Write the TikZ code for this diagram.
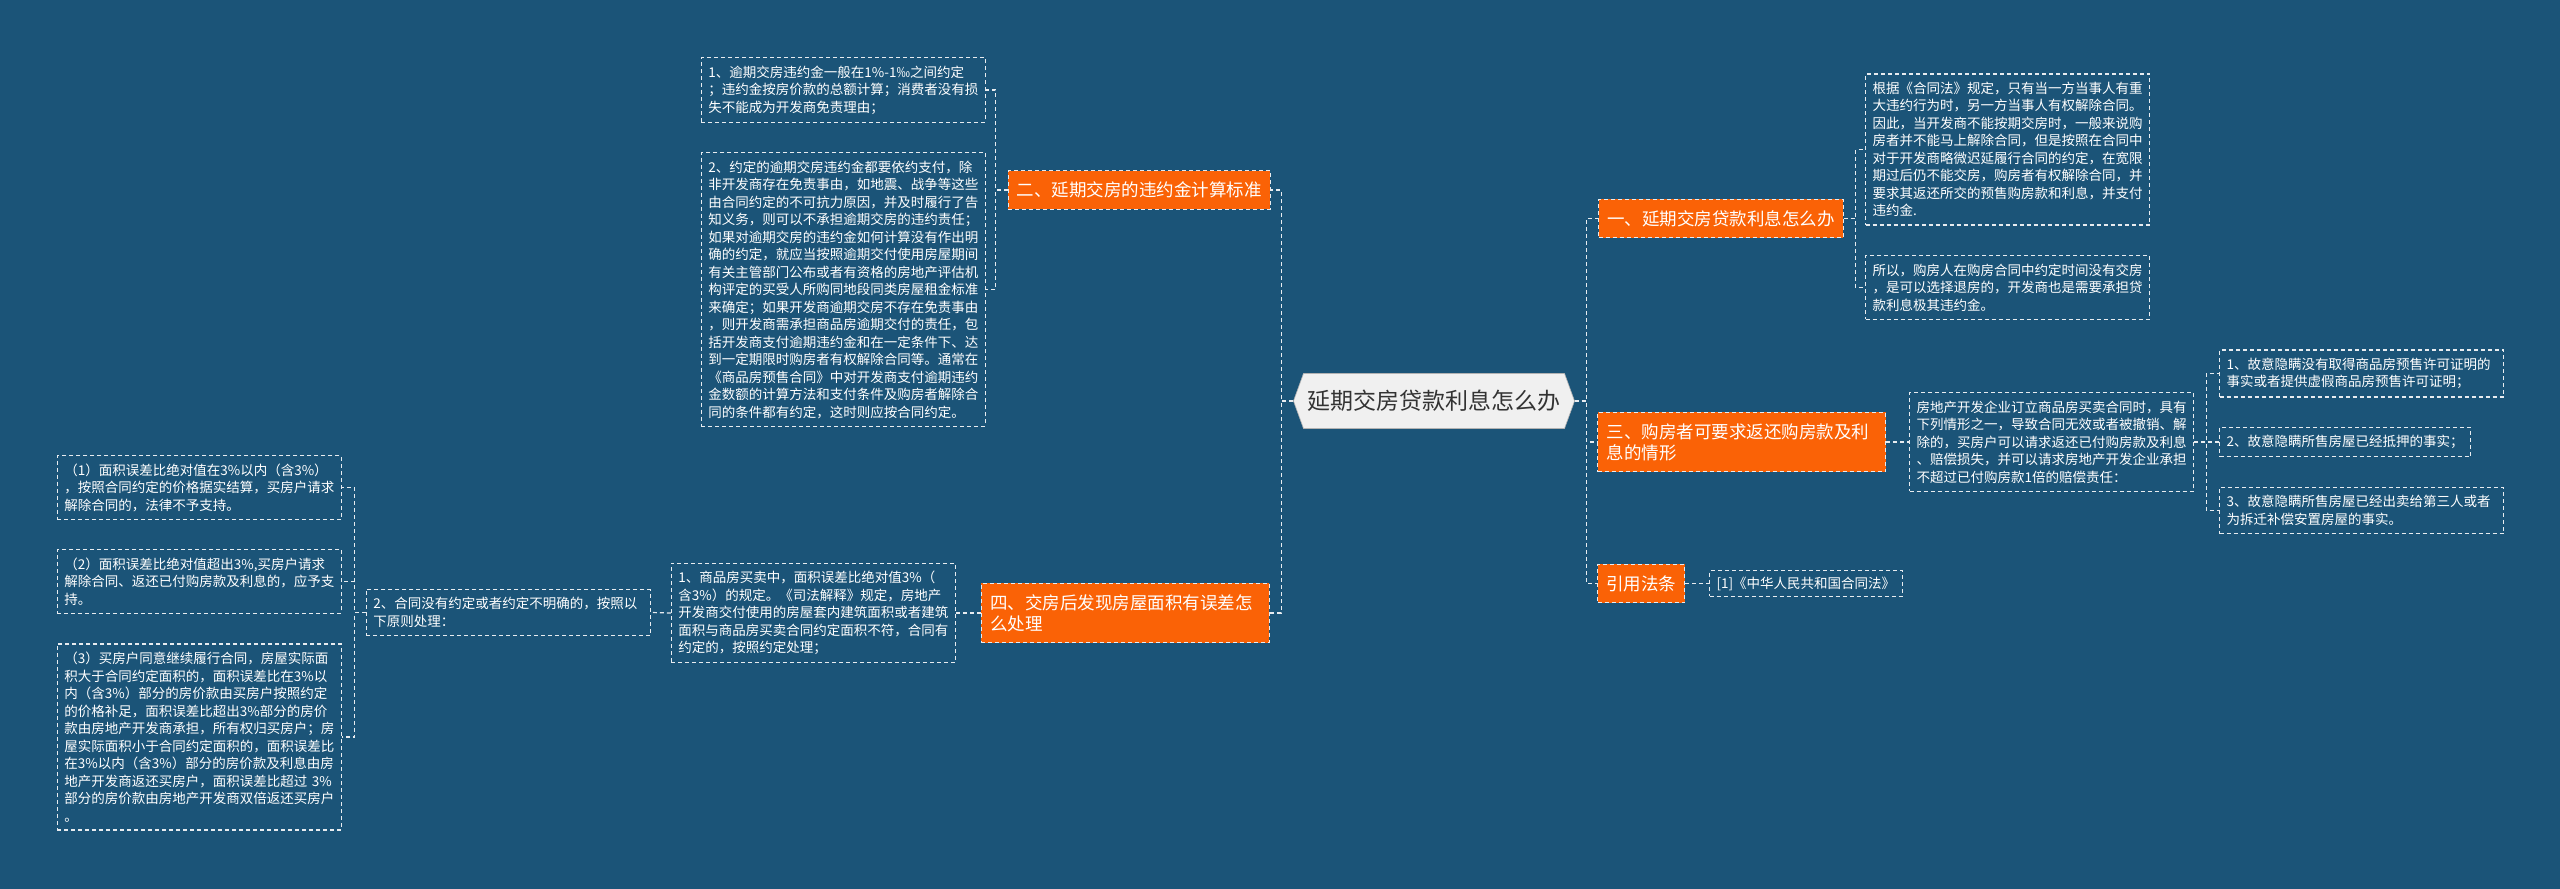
\documentclass[tikz,border=0pt]{standalone}
\usepackage{fontspec}
\setmainfont{Noto Sans CJK SC}
\usetikzlibrary{shapes.symbols}
\definecolor{bgblue}{RGB}{27,84,120}
\definecolor{topicorange}{RGB}{250,98,6}
\definecolor{rootgrey}{RGB}{240,240,240}
\definecolor{linewhite}{RGB}{232,236,240}
\tikzset{
  link/.style={draw=linewhite, line width=1.2pt, dash pattern=on 4pt off 3pt},
  leaf/.style={draw=linewhite, line width=1.2pt, dash pattern=on 4pt off 3pt, text=white,
    align=left, text width=270pt, inner xsep=7pt, inner ysep=8pt,
    font=\fontsize{13.5}{17.5}\selectfont},
  shortleaf/.style={leaf, text width=, },
  topic/.style={fill=topicorange, draw=linewhite, line width=1.2pt, dash pattern=on 4pt off 3pt,
    text=white, align=left, inner xsep=8.5pt, inner ysep=11pt,
    font=\fontsize{17.5}{21}\selectfont},
  rootnode/.style={signal, signal to=east and west, signal pointer angle=140,
    fill=rootgrey, draw=gray!60, line width=0.6pt, text=black!80,
    minimum width=278pt, minimum height=55pt, inner xsep=4pt,
    font=\fontsize{23}{27}\selectfont}
}
\begin{document}
\begin{tikzpicture}[x=1pt,y=-1pt]
			%%%%% START %%%%%
			
			\fill[bgblue] (0,0) rectangle (2560,889);
			\useasboundingbox (0,0) rectangle (2560,889);
			
			\node[rootnode] (root) at (1434,401) {延期交房贷款利息怎么办};
			
			% left branch: 二
			\node[topic, anchor=east] (two) at (1271,190) {二、延期交房的违约金计算标准};
			\node[leaf, anchor=east] (t1) at (986,90) {1、逾期交房违约金一般在1\%-1‰之间约定\\；违约金按房价款的总额计算；消费者没有损\\失不能成为开发商免责理由；};
			\node[leaf, anchor=east] (t2) at (986,289.5) {2、约定的逾期交房违约金都要依约支付，除\\非开发商存在免责事由，如地震、战争等这些\\由合同约定的不可抗力原因，并及时履行了告\\知义务，则可以不承担逾期交房的违约责任；\\如果对逾期交房的违约金如何计算没有作出明\\确的约定，就应当按照逾期交付使用房屋期间\\有关主管部门公布或者有资格的房地产评估机\\构评定的买受人所购同地段同类房屋租金标准\\来确定；如果开发商逾期交房不存在免责事由\\，则开发商需承担商品房逾期交付的责任，包\\括开发商支付逾期违约金和在一定条件下、达\\到一定期限时购房者有权解除合同等。通常在\\《商品房预售合同》中对开发商支付逾期违约\\金数额的计算方法和支付条件及购房者解除合\\同的条件都有约定，这时则应按合同约定。};
			
			% left branch: 四
			\node[topic, anchor=east, text width=270pt, inner xsep=9pt] (four) at (1270,613) {四、交房后发现房屋面积有误差怎\\么处理};
			\node[leaf, anchor=east] (l3) at (956,613) {1、商品房买卖中，面积误差比绝对值3\%（\\含3\%）的规定。《司法解释》规定，房地产\\开发商交付使用的房屋套内建筑面积或者建筑\\面积与商品房买卖合同约定面积不符，合同有\\约定的，按照约定处理；};
			\node[leaf, anchor=east] (l2) at (651,612.5) {2、合同没有约定或者约定不明确的，按照以\\下原则处理：};
			\node[leaf, anchor=east] (s1) at (342,487.5) {（1）面积误差比绝对值在3\%以内（含3\%）\\，按照合同约定的价格据实结算，买房户请求\\解除合同的，法律不予支持。};
			\node[leaf, anchor=east] (s2) at (342,581.5) {（2）面积误差比绝对值超出3\%,买房户请求\\解除合同、返还已付购房款及利息的，应予支\\持。};
			\node[leaf, anchor=east] (s3) at (342,737) {（3）买房户同意继续履行合同，房屋实际面\\积大于合同约定面积的，面积误差比在3\%以\\内（含3\%）部分的房价款由买房户按照约定\\的价格补足，面积误差比超出3\%部分的房价\\款由房地产开发商承担，所有权归买房户；房\\屋实际面积小于合同约定面积的，面积误差比\\在3\%以内（含3\%）部分的房价款及利息由房\\地产开发商返还买房户，面积误差比超过 3\%\\部分的房价款由房地产开发商双倍返还买房户\\。};
			
			% right branch: 一
			\node[topic, anchor=west] (one) at (1598,218.5) {一、延期交房贷款利息怎么办};
			\node[leaf, anchor=west] (r1) at (1865,149.5) {根据《合同法》规定，只有当一方当事人有重\\大违约行为时，另一方当事人有权解除合同。\\因此，当开发商不能按期交房时，一般来说购\\房者并不能马上解除合同，但是按照在合同中\\对于开发商略微迟延履行合同的约定，在宽限\\期过后仍不能交房，购房者有权解除合同，并\\要求其返还所交的预售购房款和利息，并支付\\违约金.};
			\node[leaf, anchor=west] (r2) at (1865,287.5) {所以，购房人在购房合同中约定时间没有交房\\，是可以选择退房的，开发商也是需要承担贷\\款利息极其违约金。};
			
			% right branch: 三
			\node[topic, anchor=west, text width=270pt, inner xsep=9pt] (three) at (1597,442) {三、购房者可要求返还购房款及利\\息的情形};
			\node[leaf, anchor=west] (r3) at (1909,442) {房地产开发企业订立商品房买卖合同时，具有\\下列情形之一，导致合同无效或者被撤销、解\\除的，买房户可以请求返还已付购房款及利息\\、赔偿损失，并可以请求房地产开发企业承担\\不超过已付购房款1倍的赔偿责任：};
			\node[leaf, anchor=west] (r3a) at (2219,373.5) {1、故意隐瞒没有取得商品房预售许可证明的\\事实或者提供虚假商品房预售许可证明；};
			\node[shortleaf, anchor=west] (r3b) at (2219,442) {2、故意隐瞒所售房屋已经抵押的事实；};
			\node[leaf, anchor=west] (r3c) at (2219,510.5) {3、故意隐瞒所售房屋已经出卖给第三人或者\\为拆迁补偿安置房屋的事实。};
			
			% right branch: 引用法条
			\node[topic, anchor=west] (law) at (1597,583.5) {引用法条};
			\node[shortleaf, anchor=west, inner ysep=6pt] (lawref) at (1709,583.5) {[1]《中华人民共和国合同法》};
			
			% connectors
			\draw[link] (root.west) -- ++(-12,0) |- (two.east);
			\draw[link] (root.west) -- ++(-12,0) |- (four.east);
			\draw[link] (root.east) -- ++(12,0) |- (one.west);
			\draw[link] (root.east) -- ++(12,0) |- (three.west);
			\draw[link] (root.east) -- ++(12,0) |- (law.west);
			
			\draw[link] (two.west) -- ++(-12,0) |- (t1.east);
			\draw[link] (two.west) -- ++(-12,0) |- (t2.east);
			
			\draw[link] (four.west) -- (l3.east);
			\draw[link] (l3.west) -- (l2.east);
			\draw[link] (l2.west) -- ++(-11,0) |- (s1.east);
			\draw[link] (l2.west) -- ++(-11,0) |- (s2.east);
			\draw[link] (l2.west) -- ++(-11,0) |- (s3.east);
			
			\draw[link] (one.east) -- ++(12,0) |- (r1.west);
			\draw[link] (one.east) -- ++(12,0) |- (r2.west);
			
			\draw[link] (three.east) -- (r3.west);
			\draw[link] (r3.east) -- ++(12,0) |- (r3a.west);
			\draw[link] (r3.east) -- ++(12,0) |- (r3b.west);
			\draw[link] (r3.east) -- ++(12,0) |- (r3c.west);
			
			\draw[link] (law.east) -- (lawref.west);
			
			%%%%% END %%%%%
\end{tikzpicture}
\end{document}
